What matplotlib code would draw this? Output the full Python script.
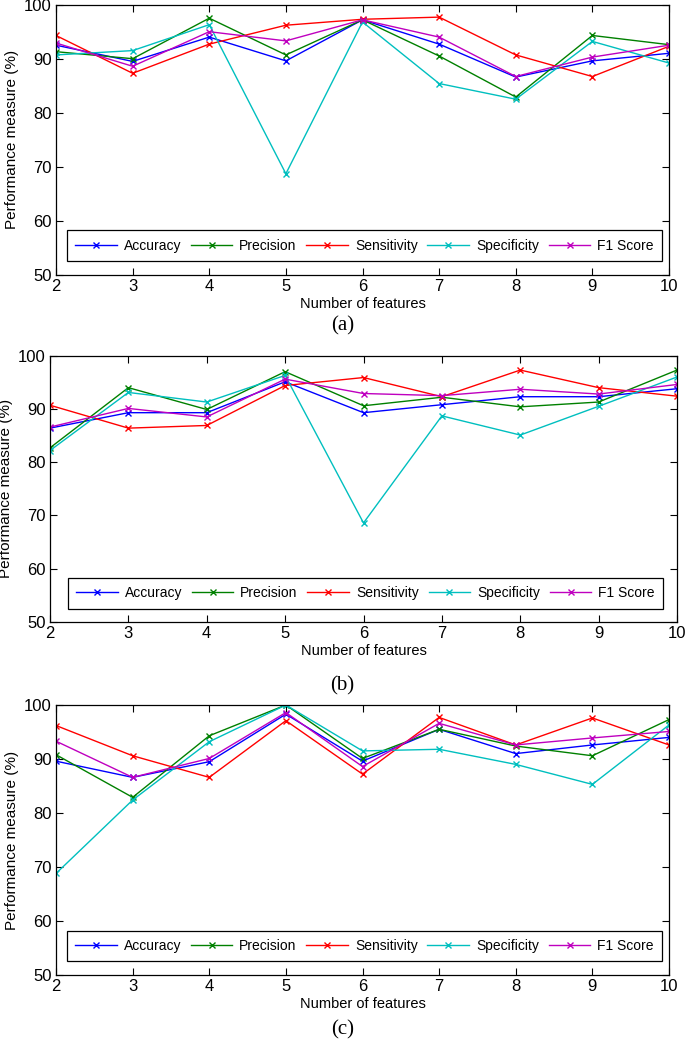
import matplotlib
matplotlib.use("Agg")
import matplotlib.pyplot as plt

features = [2, 3, 4, 5, 6, 7, 8, 9, 10]
series_names = ["Accuracy", "Precision", "Sensitivity", "Specificity", "F1 Score"]
colors = ["#0000ff", "#008000", "#ff0000", "#00bfbf", "#bf00bf"]

# Panel (a)
a_accuracy    = [92.5, 89.5, 94.0, 89.6, 97.2, 92.7, 86.6, 89.6, 91.0]
a_precision   = [91.3, 90.0, 97.5, 90.7, 97.2, 90.5, 82.9, 94.3, 92.6]
a_sensitivity = [94.3, 87.3, 92.7, 96.2, 97.3, 97.7, 90.7, 86.7, 92.3]
a_specificity = [90.7, 91.5, 96.3, 68.7, 96.8, 85.4, 82.5, 93.2, 89.2]
a_f1          = [92.9, 88.6, 95.0, 93.3, 97.2, 94.0, 86.7, 90.3, 92.5]

# Panel (b)
b_accuracy    = [86.4, 89.3, 89.3, 95.1, 89.3, 90.8, 92.3, 92.3, 93.8]
b_precision   = [82.7, 94.0, 89.9, 97.0, 90.6, 92.2, 90.4, 91.3, 97.3]
b_sensitivity = [90.7, 86.4, 86.9, 94.4, 95.9, 92.3, 97.3, 94.0, 92.4]
b_specificity = [82.2, 93.1, 91.3, 96.3, 68.6, 88.7, 85.1, 90.5, 96.0]
b_f1          = [86.6, 90.1, 88.5, 95.6, 92.9, 92.5, 93.7, 92.8, 94.6]

# Panel (c)
c_accuracy    = [89.6, 86.6, 89.5, 98.3, 89.6, 95.5, 91.0, 92.6, 94.0]
c_precision   = [90.8, 82.9, 94.3, 100.0, 90.1, 95.5, 92.4, 90.6, 97.3]
c_sensitivity = [96.2, 90.6, 86.6, 97.1, 87.2, 97.7, 92.6, 97.6, 92.6]
c_specificity = [68.8, 82.4, 93.2, 100.0, 91.5, 91.8, 89.0, 85.3, 96.3]
c_f1          = [93.3, 86.6, 90.1, 98.6, 88.6, 96.6, 92.6, 93.9, 95.1]

panels = [
    ("(a)", [a_accuracy, a_precision, a_sensitivity, a_specificity, a_f1]),
    ("(b)", [b_accuracy, b_precision, b_sensitivity, b_specificity, b_f1]),
    ("(c)", [c_accuracy, c_precision, c_sensitivity, c_specificity, c_f1]),
]

W, H = 685, 1045
fig = plt.figure(figsize=(W / 100, H / 100), dpi=100)

# axes rectangles in pixels: left, right, top, bottom
rects = [(56, 669, 4.7, 274.7), (50, 677, 355.7, 622), (56, 669, 705, 975)]
caption_y = [326, 686, 1030]
sans = "Liberation Sans"

for (cap, data), (l, r, t, b), cy in zip(panels, rects, caption_y):
    ax = fig.add_axes([l / W, 1 - b / H, (r - l) / W, (b - t) / H])
    for name, vals, col in zip(series_names, data, colors):
        ax.plot(features, vals, color=col, marker="x", markersize=5,
                linewidth=1.0, markeredgewidth=1.0, label=name)
    ax.set_xlim(2, 10)
    ax.set_ylim(50, 100)
    ax.set_xticks(features)
    ax.set_yticks([50, 60, 70, 80, 90, 100])
    ax.tick_params(direction="in", top=True, right=True, length=5, width=0.8,
                   labelsize=12, pad=3)
    for lab in ax.get_xticklabels() + ax.get_yticklabels():
        lab.set_family(sans)
    for sp in ax.spines.values():
        sp.set_linewidth(0.9)
    ax.set_xlabel("Number of features", fontsize=10.5, family=sans, labelpad=2)
    ax.set_ylabel("Performance measure (%)", fontsize=11, family=sans, labelpad=4)
    leg = ax.legend(loc="lower center", bbox_to_anchor=(0.503, 0.035), ncol=5,
                    prop={"family": sans, "size": 10}, handlelength=3.0,
                    columnspacing=0.7, handletextpad=0.5, borderpad=0.6,
                    borderaxespad=0.3, fancybox=False, framealpha=1,
                    edgecolor="black")
    leg.get_frame().set_linewidth(0.9)
    fig.text(0.5, 1 - cy / H, cap, ha="center", va="center",
             family="Liberation Serif", fontsize=15)

fig.savefig("out.png", dpi=100)
